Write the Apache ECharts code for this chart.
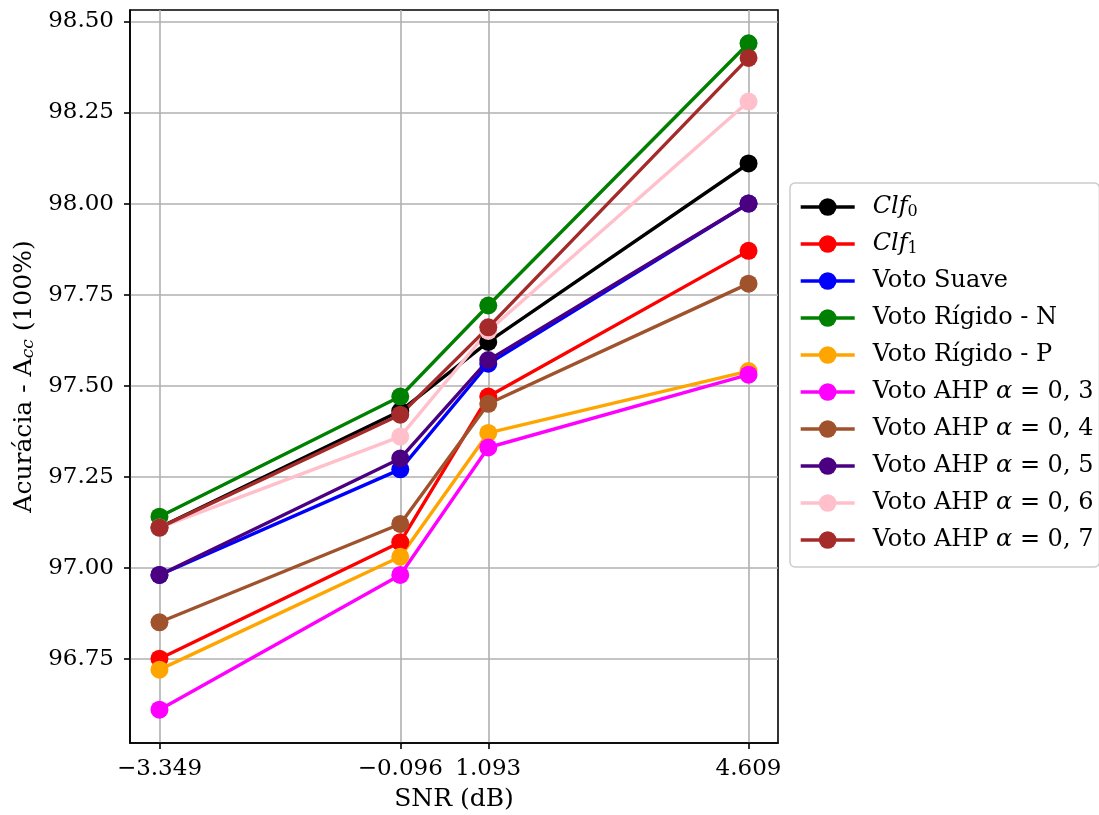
<!DOCTYPE html>
<html>
<head>
<meta charset="utf-8">
<script src="https://cdn.jsdelivr.net/npm/echarts@6/dist/echarts.min.js"></script>
<style>
  html, body { margin: 0; padding: 0; background: #fff; }
  #chart { width: 1099px; height: 815px; }
</style>
</head>
<body>
<div id="chart"></div>
<script>
// SNR operating points (dB)
const snr = [-3.349, -0.096, 1.093, 4.609];

// Accuracy (%) per classifier / voting scheme at each SNR
const clf0      = [97.11, 97.43, 97.62, 98.11];
const clf1      = [96.75, 97.07, 97.47, 97.87];
const votoSuave = [96.98, 97.27, 97.56, 98.00];
const rigidoN   = [97.14, 97.47, 97.72, 98.44];
const rigidoP   = [96.72, 97.03, 97.37, 97.54];
const ahp03     = [96.61, 96.98, 97.33, 97.53];
const ahp04     = [96.85, 97.12, 97.45, 97.78];
const ahp05     = [96.98, 97.30, 97.57, 98.00];
const ahp06     = [97.11, 97.36, 97.65, 98.28];
const ahp07     = [97.11, 97.42, 97.66, 98.40];

// Axis ticks
const yTicks = [96.75, 97.00, 97.25, 97.50, 97.75, 98.00, 98.25, 98.50];
const xTicks = snr;

const seriesNames = ['Clf0', 'Clf1', 'Voto Suave', 'Voto Rígido - N', 'Voto Rígido - P',
  'Voto AHP 0,3', 'Voto AHP 0,4', 'Voto AHP 0,5', 'Voto AHP 0,6', 'Voto AHP 0,7'];
const seriesData = [clf0, clf1, votoSuave, rigidoN, rigidoP, ahp03, ahp04, ahp05, ahp06, ahp07];
const seriesColors = ['#000000', '#ff0000', '#0000ff', '#008000', '#ffa500',
  '#ff00ff', '#a0522d', '#4b0082', '#ffc0cb', '#a52a2a'];

// Rich-text legend labels (italic math symbols, subscripts)
const legendLabels = {
  'Clf0': '{it|Clf}{sub|0}',
  'Clf1': '{it|Clf}{sub|1}',
  'Voto Suave': 'Voto Suave',
  'Voto Rígido - N': 'Voto Rígido - N',
  'Voto Rígido - P': 'Voto Rígido - P',
  'Voto AHP 0,3': 'Voto AHP {it|α} = 0, 3',
  'Voto AHP 0,4': 'Voto AHP {it|α} = 0, 4',
  'Voto AHP 0,5': 'Voto AHP {it|α} = 0, 5',
  'Voto AHP 0,6': 'Voto AHP {it|α} = 0, 6',
  'Voto AHP 0,7': 'Voto AHP {it|α} = 0, 7'
};

const FONT = 'DejaVu Serif';
const chart = echarts.init(document.getElementById('chart'), null, { renderer: 'canvas' });

const series = seriesNames.map((name, i) => ({
  name: name,
  type: 'line',
  data: snr.map((x, j) => [x, seriesData[i][j]]),
  symbol: 'circle',
  symbolSize: 18,
  showSymbol: true,
  lineStyle: { color: seriesColors[i], width: 3.4 },
  itemStyle: { color: seriesColors[i], borderWidth: 0 },
  emphasis: { disabled: true },
  animation: false
}));

chart.setOption({
  backgroundColor: '#ffffff',
  animation: false,
  grid: {
    left: 130, top: 10, width: 648, height: 733,
    outerBoundsMode: 'none',
    containLabel: false,
    show: true, borderColor: '#000000', borderWidth: 1.6, backgroundColor: 'transparent'
  },
  xAxis: {
    type: 'value',
    min: -3.747, max: 5.007,
    name: 'SNR (dB)',
    nameLocation: 'middle',
    nameGap: 44,
    nameTextStyle: { fontFamily: FONT, fontSize: 25, color: '#000' },
    axisLine: { show: true, onZero: false, lineStyle: { color: '#000', width: 1.6 } },
    axisTick: { show: true, length: 6, customValues: xTicks, lineStyle: { color: '#000', width: 1.6 } },
    axisLabel: {
      customValues: xTicks, margin: 15,
      fontFamily: FONT, fontSize: 23, color: '#000',
      formatter: v => v.toFixed(3).replace('-', '\u2212')
    },
    splitLine: { show: true, lineStyle: { color: '#b0b0b0', width: 1.6 } }
  },
  yAxis: {
    type: 'value',
    min: 96.5185, max: 98.5315,
    name: 'Acurácia - A{sub|cc} (100%)',
    nameLocation: 'middle',
    nameRotate: 90,
    nameGap: 93,
    nameTextStyle: {
      fontFamily: FONT, fontSize: 25, color: '#000',
      rich: {
        sub: { fontFamily: FONT, fontStyle: 'italic', fontSize: 17, color: '#000', verticalAlign: 'bottom', padding: [8, 0, 0, 0] }
      }
    },
    axisLine: { show: true, onZero: false, lineStyle: { color: '#000', width: 1.6 } },
    axisTick: { show: true, length: 6, customValues: yTicks, lineStyle: { color: '#000', width: 1.6 } },
    axisLabel: {
      customValues: yTicks, margin: 16,
      fontFamily: FONT, fontSize: 23, color: '#000',
      formatter: v => v.toFixed(2)
    },
    splitLine: { show: true, lineStyle: { color: '#b0b0b0', width: 1.6 } }
  },
  legend: {
    orient: 'vertical',
    left: 790, top: 183,
    data: seriesNames,
    itemWidth: 54, itemHeight: 22,
    itemGap: 11,
    padding: [11, 6, 14, 9],
    backgroundColor: 'rgba(255,255,255,0.8)',
    borderColor: '#cccccc', borderWidth: 1.5, borderRadius: 5,
    selectedMode: false,
    lineStyle: { width: 3.4 },
    formatter: name => legendLabels[name],
    textStyle: {
      fontFamily: FONT, fontSize: 24, color: '#000', lineHeight: 26,
      padding: [0, 0, 0, 13],
      rich: {
        it: { fontFamily: FONT, fontStyle: 'italic', fontSize: 24, color: '#000', lineHeight: 26 },
        sub: { fontFamily: FONT, fontSize: 16, color: '#000', lineHeight: 26, verticalAlign: 'bottom', padding: [10, 0, 0, 0] }
      }
    }
  },
  series: series
});
</script>
</body>
</html>
